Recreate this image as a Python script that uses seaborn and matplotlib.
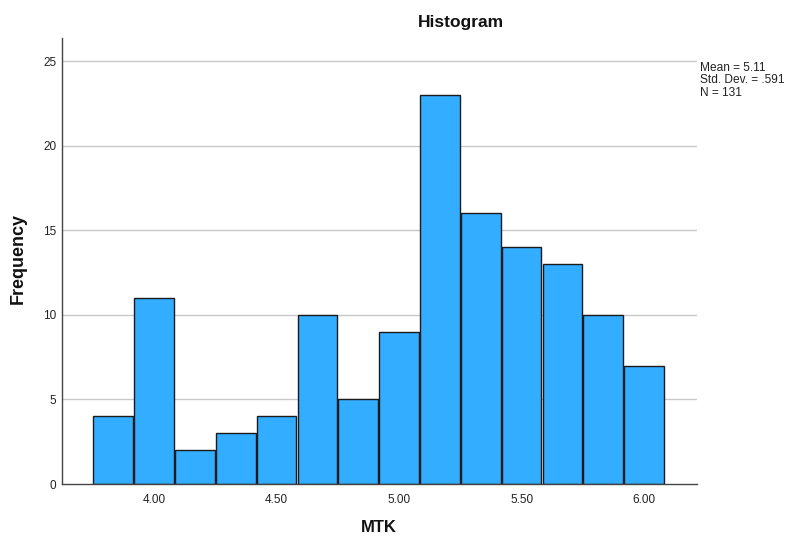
import numpy as np
import pandas as pd
import matplotlib
matplotlib.use('Agg')
import matplotlib.pyplot as plt
import seaborn as sns

# bin centres (MTK) and counts, bin width = 1/6
bin_width = 1 / 6
bin_centers = [3.8333, 4.0, 4.1667, 4.3333, 4.5, 4.6667, 4.8333,
               5.0, 5.1667, 5.3333, 5.5, 5.6667, 5.8333, 6.0]
counts = [4, 11, 2, 3, 4, 10, 5, 9, 23, 16, 14, 13, 10, 7]
x_ticks = [4.0, 4.5, 5.0, 5.5, 6.0]
y_ticks = [0, 5, 10, 15, 20, 25]
stats_text = "Mean = 5.11\nStd. Dev. = .591\nN = 131"

df = pd.DataFrame({'MTK': bin_centers, 'n': counts})
edges = [c - bin_width / 2 for c in bin_centers] + [bin_centers[-1] + bin_width / 2]

sns.set_style('white')
plt.rcParams['font.family'] = ['Liberation Sans', 'DejaVu Sans']

fig = plt.figure(figsize=(7.91, 5.4), dpi=100)
ax = fig.add_axes([0.0784, 0.1037, 0.8028, 0.8259])

ax.set_axisbelow(True)
for y in y_ticks[1:]:
    ax.axhline(y, color='#c8c8c8', lw=1, zorder=0)

sns.histplot(data=df, x='MTK', weights='n', bins=edges, ax=ax,
             color='#33adff', alpha=1, edgecolor='#1a1a1a', linewidth=1,
             shrink=0.97)

ax.set_xlim(3.6245, 6.216)
ax.set_ylim(0, 26.36)
ax.set_xticks(x_ticks)
ax.set_xticklabels([f'{t:.2f}' for t in x_ticks])
ax.set_yticks(y_ticks)
ax.tick_params(axis='both', length=0, labelsize=8.5, colors='#222222')
ax.tick_params(axis='x', pad=7)
ax.tick_params(axis='y', pad=4)

for s in ['top', 'right']:
    ax.spines[s].set_visible(False)
for s in ['left', 'bottom']:
    ax.spines[s].set_color('#444444')
    ax.spines[s].set_linewidth(1)

ax.set_xlabel('')
ax.set_ylabel('')
fig.text(379 / 791, 1 - 528 / 540, 'MTK', fontsize=12, fontweight='bold',
         ha='center', va='center', color='#111111')
fig.text(18.5 / 791, 1 - 258 / 540, 'Frequency', fontsize=13, fontweight='bold',
         ha='center', va='center', rotation=90, color='#111111')
fig.text(461 / 791, 1 - 23 / 540, 'Histogram', fontsize=12.5, fontweight='bold',
         ha='center', va='center', color='#111111')

fig.text(700 / 791, 1 - 62 / 540, stats_text, fontsize=8.6, va='top',
         ha='left', color='#222222', linespacing=1.05)

fig.savefig('out.png', dpi=100)
